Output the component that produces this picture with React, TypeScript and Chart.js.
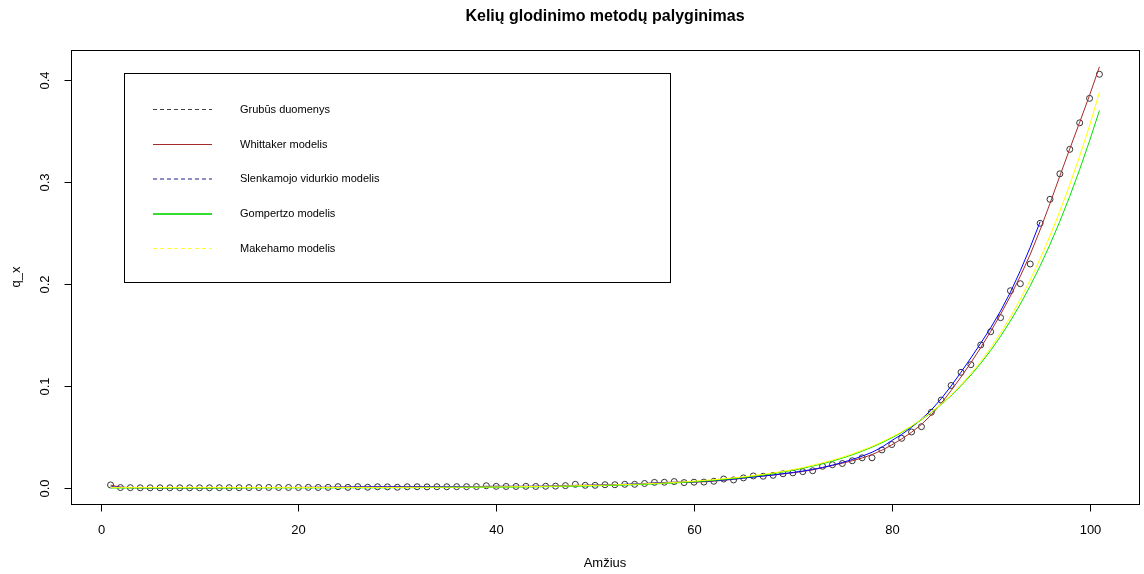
import React, { useEffect, useRef } from "react";
import { Chart, registerables } from "chart.js";

Chart.register(...registerables);

// ---- data ----
const ages: number[] = Array.from({ length: 101 }, (_, i) => i + 1);

const observed: number[] = [
  0.0030, 0.0004, 0.0003, 0.0002, 0.0002, 0.0002, 0.0002, 0.0002, 0.0002, 0.0002,
  0.0002, 0.0003, 0.0003, 0.0003, 0.0004, 0.0004, 0.0005, 0.0005, 0.0005, 0.0005,
  0.0006, 0.0005, 0.0006, 0.0013, 0.0006, 0.0013, 0.0007, 0.0012, 0.0011, 0.0007,
  0.0012, 0.0012, 0.0011, 0.0012, 0.0012, 0.0013, 0.0013, 0.0014, 0.0022, 0.0016,
  0.0015, 0.0015, 0.0016, 0.0015, 0.0017, 0.0018, 0.0023, 0.0036, 0.0026, 0.0026,
  0.0032, 0.0032, 0.0036, 0.0036, 0.0044, 0.0055, 0.0056, 0.0063, 0.0053, 0.0057,
  0.0058, 0.0066, 0.0088, 0.0079, 0.0099, 0.0118, 0.0115, 0.0124, 0.0139, 0.0148,
  0.0160, 0.0169, 0.0213, 0.0228, 0.0240, 0.0267, 0.0296, 0.0296, 0.0373, 0.0426,
  0.0487, 0.0549, 0.0601, 0.0742, 0.0862, 0.1005, 0.1134, 0.1209, 0.1402, 0.1532,
  0.1670, 0.1934, 0.2003, 0.2196, 0.2595, 0.2830, 0.3080, 0.3320, 0.3580, 0.3820,
  0.4056,
];

const whittaker: number[] = [
  0.0028, 0.0008, 0.0003, 0.0002, 0.0002, 0.0002, 0.0002, 0.0002, 0.0002, 0.0002,
  0.0002, 0.0003, 0.0003, 0.0003, 0.0004, 0.0004, 0.0005, 0.0005, 0.0005, 0.0005,
  0.0006, 0.0006, 0.0006, 0.0008, 0.0009, 0.0010, 0.0010, 0.0011, 0.0011, 0.0011,
  0.0011, 0.0012, 0.0012, 0.0012, 0.0012, 0.0013, 0.0013, 0.0014, 0.0016, 0.0016,
  0.0016, 0.0016, 0.0016, 0.0016, 0.0017, 0.0019, 0.0022, 0.0026, 0.0027, 0.0028,
  0.0030, 0.0032, 0.0035, 0.0038, 0.0043, 0.0050, 0.0054, 0.0057, 0.0057, 0.0058,
  0.0061, 0.0067, 0.0076, 0.0085, 0.0097, 0.0109, 0.0118, 0.0127, 0.0138, 0.0149,
  0.0162, 0.0178, 0.0199, 0.0221, 0.0243, 0.0267, 0.0294, 0.0327, 0.0370, 0.0422,
  0.0481, 0.0546, 0.0623, 0.0717, 0.0830, 0.0955, 0.1088, 0.1228, 0.1377, 0.1534,
  0.1702, 0.1882, 0.2077, 0.2290, 0.2530, 0.2790, 0.3060, 0.3325, 0.3585, 0.3850,
  0.4130,
];

// moving average, ages 1..95
const movingAvg: number[] = [
  0.0010, 0.0007, 0.0004, 0.0003, 0.0002, 0.0002, 0.0002, 0.0002, 0.0002, 0.0002,
  0.0002, 0.0003, 0.0003, 0.0003, 0.0004, 0.0004, 0.0004, 0.0005, 0.0005, 0.0005,
  0.0006, 0.0007, 0.0007, 0.0008, 0.0009, 0.0010, 0.0010, 0.0011, 0.0011, 0.0011,
  0.0011, 0.0012, 0.0012, 0.0012, 0.0013, 0.0013, 0.0014, 0.0014, 0.0015, 0.0016,
  0.0016, 0.0016, 0.0016, 0.0017, 0.0018, 0.0019, 0.0021, 0.0023, 0.0025, 0.0028,
  0.0030, 0.0033, 0.0036, 0.0040, 0.0044, 0.0048, 0.0052, 0.0055, 0.0057, 0.0060,
  0.0065, 0.0071, 0.0078, 0.0087, 0.0097, 0.0107, 0.0117, 0.0128, 0.0140, 0.0152,
  0.0166, 0.0182, 0.0201, 0.0224, 0.0250, 0.0279, 0.0312, 0.0350, 0.0400, 0.0465,
  0.0525, 0.0595, 0.0675, 0.0765, 0.0875, 0.1000, 0.1135, 0.1275, 0.1420, 0.1570,
  0.1735, 0.1920, 0.2130, 0.2360, 0.2610,
];

const gompertz: number[] = [
  0.0000, 0.0000, 0.0000, 0.0000, 0.0000, 0.0000, 0.0000, 0.0000, 0.0000, 0.0000,
  0.0000, 0.0000, 0.0000, 0.0000, 0.0001, 0.0001, 0.0001, 0.0001, 0.0001, 0.0001,
  0.0001, 0.0001, 0.0001, 0.0001, 0.0002, 0.0002, 0.0002, 0.0002, 0.0002, 0.0003,
  0.0003, 0.0003, 0.0004, 0.0004, 0.0004, 0.0005, 0.0005, 0.0006, 0.0007, 0.0007,
  0.0008, 0.0009, 0.0010, 0.0011, 0.0013, 0.0014, 0.0016, 0.0017, 0.0019, 0.0021,
  0.0024, 0.0026, 0.0029, 0.0032, 0.0036, 0.0040, 0.0045, 0.0049, 0.0055, 0.0061,
  0.0068, 0.0075, 0.0084, 0.0093, 0.0103, 0.0115, 0.0127, 0.0141, 0.0157, 0.0174,
  0.0193, 0.0215, 0.0238, 0.0264, 0.0293, 0.0325, 0.0361, 0.0400, 0.0444, 0.0492,
  0.0545, 0.0604, 0.0669, 0.0740, 0.0819, 0.0906, 0.1002, 0.1107, 0.1222, 0.1348,
  0.1487, 0.1638, 0.1803, 0.1982, 0.2177, 0.2387, 0.2615, 0.2860, 0.3123, 0.3403,
  0.3701,
];

const makeham: number[] = [
  0.0004, 0.0004, 0.0004, 0.0004, 0.0004, 0.0004, 0.0004, 0.0004, 0.0004, 0.0004,
  0.0004, 0.0004, 0.0004, 0.0004, 0.0004, 0.0004, 0.0004, 0.0004, 0.0004, 0.0004,
  0.0005, 0.0005, 0.0005, 0.0005, 0.0005, 0.0005, 0.0005, 0.0005, 0.0005, 0.0005,
  0.0006, 0.0006, 0.0007, 0.0007, 0.0008, 0.0008, 0.0009, 0.0010, 0.0010, 0.0011,
  0.0012, 0.0013, 0.0014, 0.0015, 0.0017, 0.0018, 0.0020, 0.0022, 0.0024, 0.0026,
  0.0028, 0.0031, 0.0034, 0.0037, 0.0041, 0.0045, 0.0049, 0.0054, 0.0060, 0.0067,
  0.0074, 0.0081, 0.0090, 0.0099, 0.0109, 0.0121, 0.0133, 0.0147, 0.0163, 0.0180,
  0.0200, 0.0222, 0.0246, 0.0272, 0.0301, 0.0333, 0.0369, 0.0408, 0.0452, 0.0499,
  0.0551, 0.0609, 0.0673, 0.0744, 0.0823, 0.0913, 0.1012, 0.1121, 0.1241, 0.1373,
  0.1518, 0.1677, 0.1851, 0.2041, 0.2248, 0.2472, 0.2714, 0.2974, 0.3253, 0.3552,
  0.3880,
];

const xTicks: number[] = [0, 20, 40, 60, 80, 100];
const yTicks: number[] = [0, 0.1, 0.2, 0.3, 0.4];
const yTickLabels: string[] = ["0.0", "0.1", "0.2", "0.3", "0.4"];

const titleText = "Kelių glodinimo metodų palyginimas";
const xTitle = "Amžius";
const yTitle = "q_x";

const legendLabels: string[] = [
  "Grubūs duomenys",
  "Whittaker modelis",
  "Slenkamojo vidurkio modelis",
  "Gompertzo modelis",
  "Makehamo modelis",
];
const legendColors: string[] = ["#444444", "#A52A2A", "#1c1c8c", "#33dd33", "#ffff33"];
const legendDash: number[][] = [[4, 3], [], [4, 3], [], [4, 3]];
const legendWidth: number[] = [1, 1, 1, 2, 1];

const FONT = "'Liberation Sans', Arial, sans-serif";

const toXY = (vals: number[]) => vals.map((v, i) => ({ x: ages[i], y: v }));

const rStylePlugin = {
  id: "rStyle",
  afterDraw(chart: any) {
    const { ctx, chartArea: a, scales } = chart;
    const xs = scales.x;
    const ys = scales.y;
    ctx.save();
    ctx.strokeStyle = "#000";
    ctx.fillStyle = "#000";
    ctx.lineWidth = 1;
    ctx.setLineDash([]);
    // box
    ctx.strokeRect(a.left + 0.5, a.top + 0.5, a.right - a.left, a.bottom - a.top);

    // x axis ticks
    ctx.font = `13px ${FONT}`;
    ctx.textAlign = "center";
    ctx.textBaseline = "middle";
    for (const v of xTicks) {
      const px = Math.round(xs.getPixelForValue(v)) + 0.5;
      ctx.beginPath();
      ctx.moveTo(px, a.bottom + 0.5);
      ctx.lineTo(px, a.bottom + 7.5);
      ctx.stroke();
      ctx.fillText(String(v), px, a.bottom + 26);
    }
    // y axis ticks
    yTicks.forEach((v, i) => {
      const py = Math.round(ys.getPixelForValue(v)) + 0.5;
      ctx.beginPath();
      ctx.moveTo(a.left + 0.5, py);
      ctx.lineTo(a.left - 6.5, py);
      ctx.stroke();
      ctx.save();
      ctx.translate(a.left - 26, py);
      ctx.rotate(-Math.PI / 2);
      ctx.fillText(yTickLabels[i], 0, 0);
      ctx.restore();
    });

    // titles
    const cx = (a.left + a.right) / 2;
    ctx.font = `bold 16px ${FONT}`;
    ctx.fillText(titleText, cx, 17);
    ctx.font = `13px ${FONT}`;
    ctx.fillText(xTitle, cx, 563);
    ctx.save();
    ctx.translate(16, (a.top + a.bottom) / 2);
    ctx.rotate(-Math.PI / 2);
    ctx.fillText(yTitle, 0, 0);
    ctx.restore();

    // legend
    const lx = 124.5, ly = 73.5, lw = 546, lh = 209;
    ctx.strokeStyle = "#000";
    ctx.strokeRect(lx, ly, lw, lh);
    const rows = [109, 144, 178.5, 213.5, 248];
    ctx.textAlign = "left";
    ctx.font = `11px ${FONT}`;
    legendLabels.forEach((lab, i) => {
      const y = rows[i] + 0.5;
      ctx.beginPath();
      ctx.strokeStyle = legendColors[i];
      ctx.lineWidth = legendWidth[i];
      ctx.setLineDash(legendDash[i]);
      ctx.moveTo(153, y);
      ctx.lineTo(212, y);
      ctx.stroke();
      ctx.setLineDash([]);
      ctx.fillStyle = "#000";
      ctx.fillText(lab, 240, y);
    });
    ctx.restore();
  },
};

export default function App() {
  const canvasRef = useRef<HTMLCanvasElement | null>(null);

  useEffect(() => {
    document.body.style.margin = "0";
    const canvas = canvasRef.current;
    if (!canvas) return;
    const chart = new Chart(canvas, {
      type: "line",
      data: {
        datasets: [
          {
            label: "Makehamo modelis",
            data: toXY(makeham),
            borderColor: "#ffff00",
            borderWidth: 1,
            pointRadius: 0,
            fill: false,
            tension: 0,
          },
          {
            label: "Gompertzo modelis",
            data: toXY(gompertz),
            borderColor: "#00e000",
            borderWidth: 1,
            pointRadius: 0,
            fill: false,
            tension: 0,
          },
          {
            label: "Slenkamojo vidurkio modelis",
            data: toXY(movingAvg),
            borderColor: "#0000ff",
            borderWidth: 1,
            pointRadius: 0,
            fill: false,
            tension: 0,
          },
          {
            label: "Whittaker modelis",
            data: toXY(whittaker),
            borderColor: "#A52A2A",
            borderWidth: 1,
            pointRadius: 0,
            fill: false,
            tension: 0,
          },
          {
            label: "Grubūs duomenys",
            data: toXY(observed),
            showLine: false,
            borderColor: "#333333",
            backgroundColor: "rgba(0,0,0,0)",
            pointRadius: 3,
            pointBorderWidth: 1,
            pointStyle: "circle",
          },
        ],
      },
      options: {
        animation: false,
        responsive: false,
        devicePixelRatio: 1,
        layout: { padding: { left: 71, right: 3, top: 50, bottom: 70 } },
        plugins: {
          legend: { display: false },
          title: { display: false },
          tooltip: { enabled: false },
        },
        scales: {
          x: { type: "linear", min: -3, max: 105, display: false },
          y: { type: "linear", min: -0.0157, max: 0.4294, display: false },
        },
      },
      plugins: [rStylePlugin],
    });
    return () => chart.destroy();
  }, []);

  return (
    <div style={{ position: "absolute", left: 0, top: 0, width: 1144, height: 574, background: "#fff" }}>
      <canvas ref={canvasRef} width={1144} height={574} style={{ display: "block" }} />
    </div>
  );
}
